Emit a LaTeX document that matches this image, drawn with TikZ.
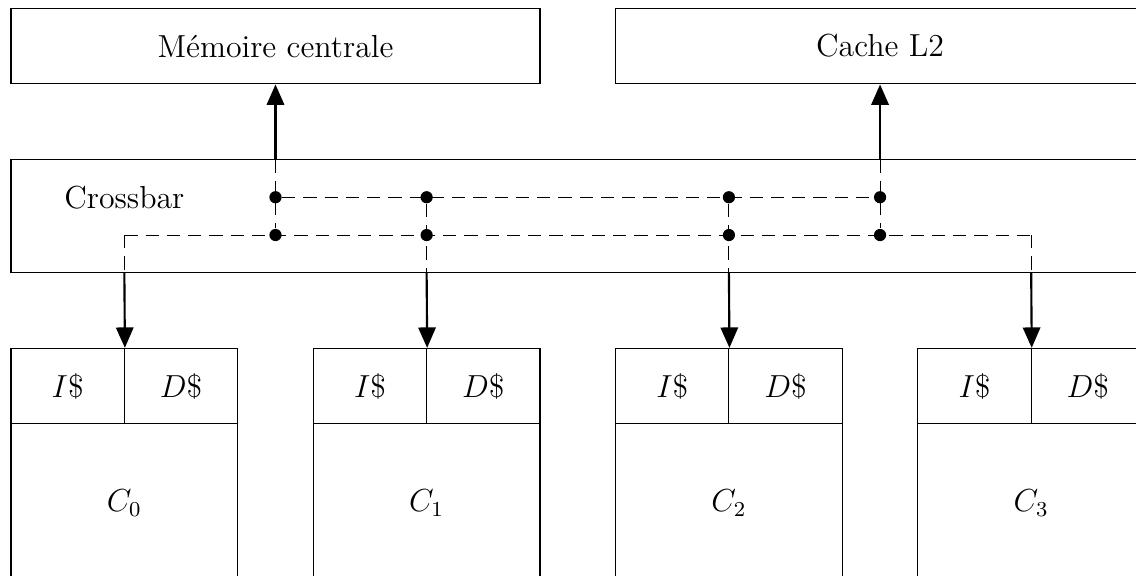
\documentclass[tikz,border=0pt]{standalone}
\usepackage{fontspec}
\usetikzlibrary{arrows.meta}
\begin{document}
\begin{tikzpicture}[
  unitbox/.style={draw, thin, inner sep=0pt, font=\large},
  widebox/.style={unitbox, minimum width=7cm, minimum height=1cm},
  halfbox/.style={unitbox, minimum width=1.5cm, minimum height=1cm},
  corebox/.style={unitbox, minimum width=3cm, minimum height=2.1cm},
  busline/.style={thin, dash pattern=on 5pt off 3pt},
  link/.style={thick, -{Triangle[length=2.7mm, width=2.3mm]}},
  junction/.style={circle, fill, inner sep=0pt, minimum size=4.6pt},
]
\useasboundingbox (-0.1456,0.11) rectangle (14.887,-7.5);
\clip (-0.1456,0.11) rectangle (14.887,-7.5);

% memories
\node[widebox] (mem) at (3.5,-0.5) {Mémoire centrale};
\node[widebox] (l2)  at (11.5,-0.5) {Cache L2};

% crossbar
\node[draw, thin, minimum width=15cm, minimum height=1.5cm, inner sep=0pt] (xbar) at (7.5,-2.75) {};
\node[font=\large] (xlabel) at (1.5,-2.5) {Crossbar};

% junctions of the two buses
\node[junction] (u1) at (3.5,-2.5) {};
\node[junction] (u2) at (5.5,-2.5) {};
\node[junction] (u3) at (9.5,-2.5) {};
\node[junction] (u4) at (11.5,-2.5) {};
\node[junction] (d1) at (3.5,-3) {};
\node[junction] (d2) at (5.5,-3) {};
\node[junction] (d3) at (9.5,-3) {};
\node[junction] (d4) at (11.5,-3) {};
\coordinate (bend0) at (1.5,-3);
\coordinate (bend3) at (13.5,-3);

% ports on the crossbar border
\coordinate (pm) at (3.5,-2);
\coordinate (pl) at (11.5,-2);
\coordinate (p0) at (1.5,-3.5);
\coordinate (p1) at (5.5,-3.5);
\coordinate (p2) at (9.5,-3.5);
\coordinate (p3) at (13.5,-3.5);

% cores with their L1 caches
\foreach \i/\x in {0/0,1/4,2/8,3/12} {
  \node[halfbox] (i\i) at (\x+0.75,-5) {$I\$$};
  \node[halfbox] (dc\i) at (\x+2.25,-5) {$D\$$};
  \node[corebox] (c\i) at (\x+1.5,-6.55) {$C_{\i}$};
}

% buses inside the crossbar
\draw[busline] (u1) -- (u4);
\draw[busline] (bend0) -- (bend3);
\draw[busline] (pm) -- (d1);
\draw[busline] (pl) -- (d4);
\draw[busline] (u2) -- (p1);
\draw[busline] (u3) -- (p2);
\draw[busline] (bend0) -- (p0);
\draw[busline] (bend3) -- (p3);

% links to memories and cores
\draw[link] (pm) -- (mem.south);
\draw[link] (pl) -- (l2.south);
\draw[link] (p0) -- (i0.north east);
\draw[link] (p1) -- (i1.north east);
\draw[link] (p2) -- (i2.north east);
\draw[link] (p3) -- (i3.north east);
\end{tikzpicture}
\end{document}
